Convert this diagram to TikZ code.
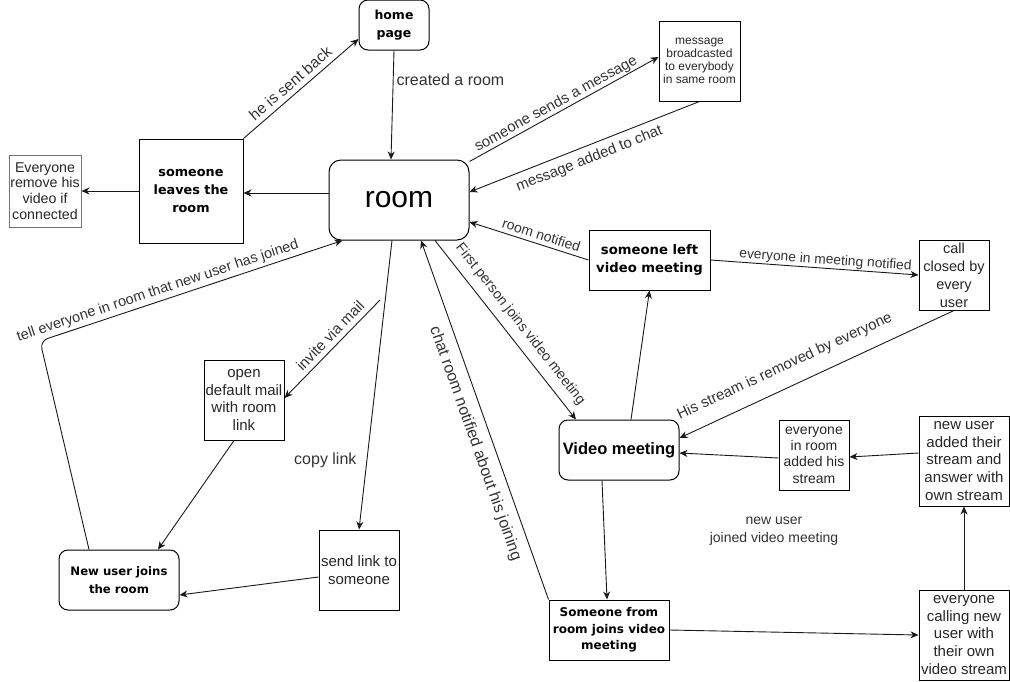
\documentclass[tikz,border=0pt]{standalone}
\usepackage{fontspec}
\setmainfont{Liberation Sans}
\newfontfamily\vfam{DejaVu Sans}
\usetikzlibrary{arrows.meta}
\newcommand{\setfs}[2]{\fontsize{#1}{#2}\selectfont}
\newcommand{\bfam}{\vfam\bfseries}

\tikzset{
  plain/.style={draw=black, line width=1pt, align=center, inner sep=0pt, text=black!85},
  rbox/.style={plain, rounded corners=9pt},
  arr/.style={line width=0.9pt, draw=black!90, -{Stealth[length=8pt,width=7pt,inset=2.5pt]}},
  lab/.style={sloped, inner sep=1pt, text=black!80, font=\setfs{15}{17}},
  flat/.style={inner sep=1pt, text=black!80}
}

\begin{document}
\begin{tikzpicture}[x=1pt, y=-1pt]
\useasboundingbox (0,0) rectangle (1010,681);

% --- states ---
\node[rbox, minimum width=70pt, minimum height=50pt, text=black, font=\bfam\setfs{12.5}{18}] (home) at (394,25) {home\\page};
\node[plain, rounded corners=12pt, minimum width=140pt, minimum height=80pt, text=black, font=\setfs{30}{34}] (room) at (399,200) {room};
\node[plain, minimum width=104pt, minimum height=104pt, text=black, font=\bfam\setfs{12.8}{18.3}] (leaves) at (191,191) {someone\\leaves the\\room};
\node[plain, draw=black!55, minimum width=72pt, minimum height=72pt, font=\setfs{14.2}{15.8}] (evrem) at (45,191) {Everyone\\remove his\\video if\\connected};
\node[plain, minimum width=81pt, minimum height=80pt, font=\setfs{12}{13}] (msg) at (699.5,61) {message\\broadcasted\\to everybody\\in same room};
\node[plain, minimum width=121pt, minimum height=60pt, text=black, font=\bfam\setfs{13.2}{18.5}] (left) at (649.5,260) {someone left\\video meeting};
\node[plain, minimum width=70pt, minimum height=70pt, font=\setfs{14.5}{18}] (callc) at (954,275) {call\\closed by\\every\\user};
\node[plain, minimum width=80pt, minimum height=80pt, font=\setfs{15}{17.6}] (mail) at (244,400) {open\\default mail\\with room\\link};
\node[plain, minimum width=80pt, minimum height=80pt, font=\setfs{15}{17.5}] (send) at (359,570) {send link to\\someone};
\node[rbox, minimum width=120pt, minimum height=60pt, text=black, font=\bfam\setfs{11.7}{17.7}] (newu) at (119,580) {New user joins\\the room};
\node[rbox, minimum width=120pt, minimum height=60pt, text=black, font=\bfseries\setfs{16.5}{19}] (video) at (619,450) {Video meeting};
\node[plain, minimum width=70pt, minimum height=70pt, font=\setfs{14}{16.2}] (inroom) at (814,455) {everyone\\in room\\added his\\stream};
\node[plain, minimum width=90pt, minimum height=90pt, font=\setfs{15}{17.6}] (nuadd) at (964,461) {new user\\added their\\stream and\\answer with\\own stream};
\node[plain, minimum width=90pt, minimum height=90pt, font=\setfs{15}{17.9}] (calling) at (964,635) {everyone\\calling new\\user with\\their own\\video stream};
\node[plain, minimum width=120pt, minimum height=60pt, text=black, font=\bfam\setfs{12}{16.3}] (sfrom) at (609,630) {Someone from\\room joins video\\meeting};

\node[flat, align=center, font=\setfs{14}{18}] (joinnote) at (774,531) {new user\\joined video meeting};

% --- free ends and bends ---
\coordinate (invfork) at (380,300);
\coordinate (tellbend) at (40,341);

% --- transitions ---
\draw[arr] (home.south) -- ([xshift=-8pt]room.north)
  node[flat, pos=0.27, right=2pt, font=\setfs{16}{18}] {created a room};
\draw[arr] (leaves.north east) -- ([yshift=-14pt]home.west)
  node[lab, pos=0.47, above=4pt, font=\setfs{15.5}{17}] {he is sent back};
\draw[arr] ([yshift=7pt]room.west) -- ([yshift=-2pt]leaves.east);
\draw[arr] (leaves.west) -- (evrem.east);

\draw[arr] ([yshift=-2pt]room.north east) -- ([yshift=4pt]msg.west)
  node[lab, pos=0.48, above=0pt] {someone sends a message};
\draw[arr] (msg.south) -- ([yshift=8pt]room.east)
  node[lab, pos=0.5, below=5pt] {message added to chat};
\draw[arr] (left.west) -- ([yshift=-22pt]room.east)
  node[lab, pos=0.42, above=3pt, font=\setfs{14}{16}] {room notified};
\draw[arr] (left.east) -- (callc.west)
  node[lab, pos=0.55, above=0pt, font=\setfs{13.8}{16}] {everyone in meeting notified};
\draw[arr] (callc.south) -- ([yshift=12pt]video.east)
  node[lab, pos=0.585, above=12pt] {His stream is removed by everyone};
\draw[arr] ([xshift=12pt]video.north) -- (left.south);

\draw[arr] ([xshift=36pt]room.south) -- ([xshift=-43pt]video.north)
  node[lab, pos=0.52, above=7pt, font=\setfs{14.2}{16}] {First person joins video meeting};
\draw[arr] (sfrom.north west) -- ([xshift=22pt]room.south)
  node[lab, pos=0.45, below=8pt, font=\setfs{16}{18}] {chat room notified about his joining};
\draw[arr] ([xshift=-17pt]video.south) -- ([xshift=-2pt]sfrom.north);
\draw[arr] (sfrom.east) -- (calling.west);
\draw[arr] (calling.north) -- (nuadd.south);
\draw[arr] ([yshift=8pt]nuadd.west) -- ([yshift=-2pt]inroom.east);
\draw[arr] ([yshift=-3pt]inroom.west) -- ([yshift=-3pt]video.east);

\draw[arr] ([xshift=-7pt]room.south) -- (send.north)
  node[flat, pos=0.76, left=9pt, font=\setfs{16}{18}] {copy link};
\draw[arr] (invfork) -- ([yshift=2pt]mail.east)
  node[lab, pos=0.44, above=4pt] {invite via mail};
\draw[arr] ([xshift=-10pt]mail.south) -- ([xshift=39pt]newu.north);
\draw[arr] ([yshift=-7pt]send.west) -- ([yshift=-15pt]newu.east);
\draw[arr, rounded corners=8pt] ([xshift=-30pt]newu.north) -- (tellbend) -- ([xshift=14pt]room.south west)
  node[lab, pos=0.4, above=2pt, font=\setfs{14.5}{17}] {tell everyone in room that new user has joined};
\end{tikzpicture}
\end{document}
